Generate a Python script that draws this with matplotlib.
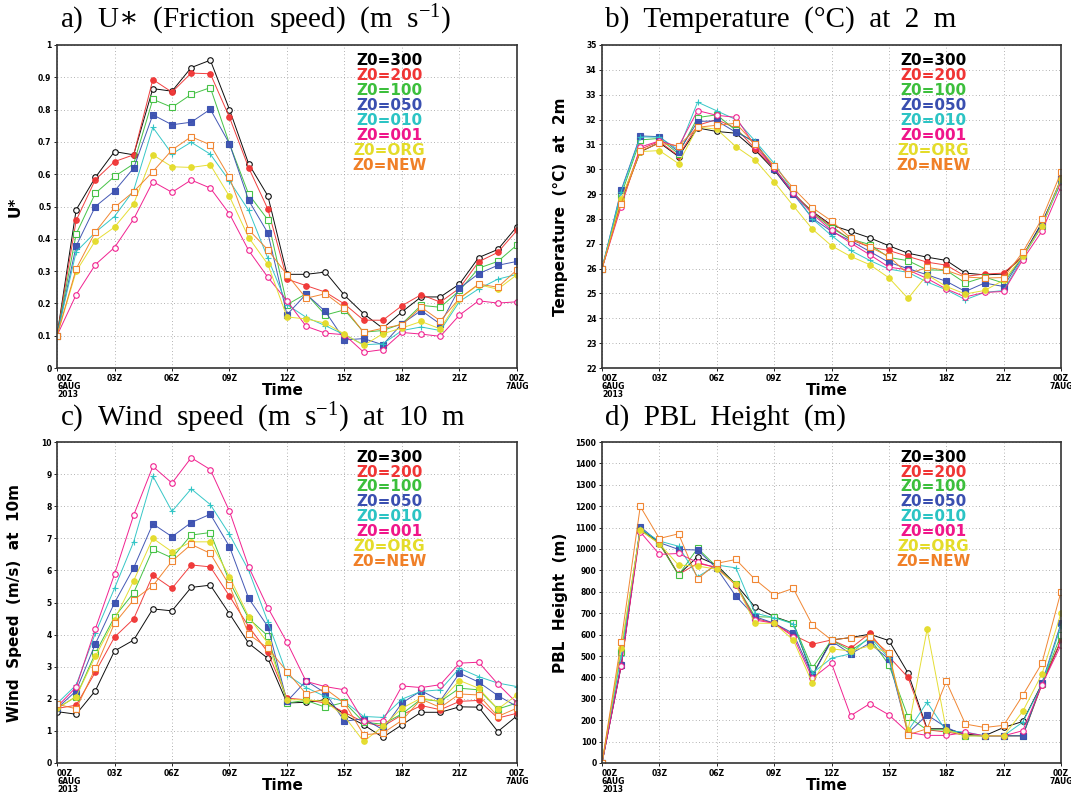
import matplotlib
matplotlib.use("Agg")
import matplotlib.pyplot as plt
import numpy as np

plt.rcParams["mathtext.fontset"] = "dejavuserif"

hours = np.arange(25)
tick_hours = [0, 3, 6, 9, 12, 15, 18, 21, 24]
tick_labels = ["00Z\n6AUG\n2013", "03Z", "06Z", "09Z", "12Z", "15Z", "18Z", "21Z", "00Z\n7AUG"]

runs = ["Z0=300", "Z0=200", "Z0=100", "Z0=050", "Z0=010", "Z0=001", "Z0=ORG", "Z0=NEW"]

# a) friction speed
ust_300 = [0.10, 0.49, 0.59, 0.67, 0.66, 0.865, 0.857, 0.93, 0.953, 0.80, 0.632, 0.533, 0.29, 0.29, 0.297, 0.225, 0.168, 0.123, 0.174, 0.22, 0.22, 0.26, 0.342, 0.367, 0.438]
ust_200 = [0.10, 0.457, 0.583, 0.639, 0.66, 0.893, 0.854, 0.913, 0.911, 0.776, 0.62, 0.492, 0.275, 0.255, 0.235, 0.198, 0.148, 0.148, 0.193, 0.227, 0.204, 0.247, 0.329, 0.358, 0.426]
ust_100 = [0.10, 0.415, 0.541, 0.593, 0.632, 0.832, 0.807, 0.847, 0.868, 0.694, 0.538, 0.459, 0.196, 0.23, 0.164, 0.18, 0.111, 0.116, 0.137, 0.194, 0.188, 0.24, 0.309, 0.33, 0.381]
ust_050 = [0.10, 0.378, 0.50, 0.548, 0.619, 0.784, 0.753, 0.761, 0.801, 0.694, 0.519, 0.418, 0.165, 0.229, 0.175, 0.087, 0.091, 0.072, 0.137, 0.178, 0.136, 0.247, 0.292, 0.318, 0.33]
ust_010 = [0.10, 0.36, 0.42, 0.469, 0.55, 0.745, 0.663, 0.699, 0.662, 0.579, 0.488, 0.34, 0.196, 0.157, 0.131, 0.103, 0.072, 0.075, 0.116, 0.127, 0.116, 0.206, 0.245, 0.275, 0.29]
ust_001 = [0.10, 0.227, 0.32, 0.373, 0.461, 0.577, 0.544, 0.582, 0.557, 0.477, 0.364, 0.281, 0.208, 0.129, 0.108, 0.103, 0.049, 0.057, 0.11, 0.105, 0.098, 0.164, 0.208, 0.201, 0.205]
ust_org = [0.10, 0.299, 0.394, 0.436, 0.508, 0.66, 0.623, 0.621, 0.629, 0.531, 0.404, 0.321, 0.158, 0.152, 0.139, 0.105, 0.07, 0.106, 0.124, 0.144, 0.121, 0.215, 0.258, 0.244, 0.289]
ust_new = [0.10, 0.307, 0.421, 0.497, 0.546, 0.608, 0.675, 0.716, 0.691, 0.59, 0.428, 0.366, 0.289, 0.216, 0.23, 0.186, 0.11, 0.123, 0.134, 0.188, 0.146, 0.216, 0.26, 0.25, 0.304]

# b) 2 m temperature
t2_300 = [26, 28.7, 30.7, 31.07, 30.51, 31.66, 31.52, 31.45, 30.78, 29.97, 29.0, 28.3, 27.75, 27.5, 27.24, 26.92, 26.62, 26.46, 26.33, 25.82, 25.75, 25.78, 26.5, 27.85, 29.47]
t2_200 = [26, 28.75, 30.8, 31.12, 30.54, 31.77, 32.0, 31.65, 30.83, 30.04, 29.05, 28.27, 27.7, 27.16, 26.87, 26.73, 26.49, 26.26, 26.14, 25.69, 25.78, 25.82, 26.5, 27.7, 29.6]
t2_100 = [26, 28.95, 31.18, 31.24, 30.62, 32.08, 32.19, 31.56, 31.05, 30.05, 29.05, 28.25, 27.63, 27.19, 26.97, 26.45, 26.32, 25.95, 25.93, 25.42, 25.66, 25.42, 26.5, 27.7, 29.6]
t2_050 = [26, 29.15, 31.34, 31.31, 30.7, 31.92, 31.95, 31.49, 31.11, 30.0, 29.0, 28.03, 27.5, 27.12, 26.69, 26.25, 26.0, 25.75, 25.49, 25.08, 25.42, 25.28, 26.5, 27.8, 29.6]
t2_010 = [26, 29.1, 31.3, 31.29, 30.78, 32.7, 32.35, 32.0, 31.14, 30.24, 29.1, 28.0, 27.33, 26.73, 26.33, 25.98, 25.85, 25.46, 25.15, 24.75, 25.04, 25.12, 26.45, 27.7, 29.5]
t2_001 = [26, 28.5, 30.89, 31.14, 30.91, 32.36, 32.17, 32.09, 30.94, 30.05, 29.04, 28.2, 27.54, 27.03, 26.56, 26.06, 25.95, 25.6, 25.18, 24.86, 25.04, 25.08, 26.36, 27.5, 29.3]
t2_org = [26, 28.8, 30.71, 30.75, 30.23, 31.7, 31.61, 30.91, 30.38, 29.49, 28.53, 27.59, 26.92, 26.49, 26.16, 25.63, 24.8, 25.75, 25.28, 24.98, 25.12, 25.53, 26.5, 27.7, 29.6]
t2_new = [26, 28.6, 30.73, 31.05, 30.94, 31.69, 31.77, 31.85, 31.01, 30.15, 29.24, 28.45, 27.92, 27.23, 26.87, 26.49, 25.78, 26.05, 25.93, 25.66, 25.62, 25.64, 26.66, 28.0, 29.87]

# c) 10 m wind speed
ws_300 = [1.6, 1.52, 2.25, 3.49, 3.83, 4.8, 4.74, 5.47, 5.54, 4.65, 3.73, 3.26, 1.87, 1.89, 1.97, 1.5, 1.19, 0.8, 1.19, 1.58, 1.58, 1.75, 1.74, 0.98, 1.47]
ws_200 = [1.7, 1.8, 2.83, 3.92, 4.49, 5.85, 5.44, 6.17, 6.11, 5.2, 4.25, 3.45, 2.02, 1.97, 1.87, 1.58, 1.27, 1.14, 1.5, 1.79, 1.66, 1.92, 1.95, 1.4, 1.55]
ws_100 = [1.7, 2.07, 3.42, 4.55, 5.3, 6.66, 6.39, 7.1, 7.18, 5.65, 4.5, 3.96, 1.87, 1.95, 1.74, 1.89, 1.27, 1.21, 1.53, 1.99, 1.92, 2.33, 2.28, 1.68, 1.87]
ws_050 = [1.7, 2.25, 3.71, 4.99, 6.08, 7.45, 7.05, 7.49, 7.75, 6.74, 5.13, 4.25, 1.92, 2.56, 2.18, 1.3, 1.38, 1.04, 1.87, 2.25, 1.94, 2.8, 2.52, 2.1, 1.76]
ws_010 = [1.85, 2.43, 4.04, 5.44, 6.89, 8.94, 7.84, 8.54, 8.05, 7.12, 6.0, 4.4, 2.75, 2.35, 2.07, 1.92, 1.45, 1.42, 1.99, 2.23, 2.28, 2.95, 2.69, 2.49, 2.38]
ws_001 = [1.75, 2.36, 4.18, 5.88, 7.72, 9.24, 8.72, 9.51, 9.14, 7.84, 6.11, 4.84, 3.76, 2.54, 2.38, 2.28, 1.3, 1.32, 2.4, 2.35, 2.44, 3.11, 3.14, 2.46, 1.87]
ws_org = [1.7, 2.07, 3.32, 4.46, 5.68, 7.0, 6.58, 6.89, 6.89, 5.8, 4.56, 3.73, 1.97, 1.97, 1.92, 1.45, 0.67, 1.14, 1.71, 2.02, 1.92, 2.57, 2.33, 1.68, 2.12]
ws_new = [1.83, 1.69, 2.95, 4.35, 5.08, 5.52, 6.29, 6.81, 6.53, 5.53, 4.01, 3.58, 2.85, 2.15, 2.31, 1.87, 0.88, 0.93, 1.33, 1.99, 1.73, 2.15, 2.12, 1.45, 1.71]

# d) PBL height
pbl_300 = [0, 451, 1095, 1031, 880, 964, 925, 835, 729, 684, 653, 410, 575, 586, 602, 572, 421, 160, 160, 135, 127, 166, 194, 370, 570]
pbl_200 = [0, 462, 1090, 1025, 881, 933, 914, 832, 676, 653, 598, 555, 575, 536, 606, 497, 400, 155, 145, 130, 127, 127, 127, 365, 575]
pbl_100 = [0, 520, 1090, 1026, 878, 1003, 917, 835, 684, 681, 653, 443, 575, 525, 583, 459, 215, 155, 155, 127, 127, 127, 127, 370, 599]
pbl_050 = [0, 460, 1104, 1030, 998, 995, 909, 780, 684, 653, 606, 409, 570, 510, 560, 485, 140, 225, 166, 130, 127, 127, 127, 373, 653]
pbl_010 = [0, 500, 1095, 1037, 1013, 870, 925, 912, 700, 679, 650, 420, 490, 510, 590, 490, 150, 284, 150, 145, 127, 127, 191, 365, 640]
pbl_001 = [0, 451, 1080, 975, 979, 937, 912, 832, 668, 653, 591, 396, 466, 221, 277, 225, 143, 129, 129, 143, 127, 127, 151, 365, 552]
pbl_org = [0, 536, 1088, 1024, 925, 920, 906, 835, 653, 653, 575, 373, 533, 524, 547, 513, 152, 625, 155, 127, 127, 127, 241, 415, 700]
pbl_new = [0, 567, 1199, 1049, 1071, 860, 933, 951, 858, 785, 816, 645, 575, 586, 591, 513, 132, 160, 381, 182, 166, 176, 316, 466, 801]

colors = ["#000000", "#f03535", "#3cbf3c", "#3a4fb0", "#2cc4c4", "#f0168a", "#e4dc2a", "#f08028"]
markers = ["o", "o", "s", "s", "+", "o", "o", "s"]
filled = [False, True, False, True, True, False, True, False]

panels = [
    ([ust_300, ust_200, ust_100, ust_050, ust_010, ust_001, ust_org, ust_new],
     "a)  U$\\ast$  (Friction  speed)  (m  s$\\mathregular{^{-1}}$)", "U*",
     (0, 1), np.round(np.arange(0, 1.01, 0.1), 1)),
    ([t2_300, t2_200, t2_100, t2_050, t2_010, t2_001, t2_org, t2_new],
     "b)  Temperature  (\u00b0C)  at  2  m", "Temperature  (\u00b0C)  at  2m",
     (22, 35), np.arange(22, 36, 1)),
    ([ws_300, ws_200, ws_100, ws_050, ws_010, ws_001, ws_org, ws_new],
     "c)  Wind  speed  (m  s$\\mathregular{^{-1}}$)  at  10  m", "Wind  Speed  (m/s)  at  10m",
     (0, 10), np.arange(0, 11, 1)),
    ([pbl_300, pbl_200, pbl_100, pbl_050, pbl_010, pbl_001, pbl_org, pbl_new],
     "d)  PBL  Height  (m)", "PBL  Height  (m)",
     (0, 1500), np.arange(0, 1501, 100)),
]

W, H = 1071, 798
fig = plt.figure(figsize=(W / 100, H / 100), dpi=100)
boxes = [(57, 45, 517, 368), (602, 45, 1061, 368), (57, 442, 517, 763), (602, 442, 1061, 763)]
title_pos = [(60, 20), (605, 20), (60, 418), (605, 418)]

for (series, title, ylabel, ylim, yticks), (x0, y0, x1, y1), (tx, ty) in zip(panels, boxes, title_pos):
    ax = fig.add_axes([x0 / W, 1 - y1 / H, (x1 - x0) / W, (y1 - y0) / H])
    for vals, c, m, f in zip(series, colors, markers, filled):
        ax.plot(hours, vals, color=c, lw=0.7, marker=m, ms=4 if m != "+" else 5,
                mfc=c if f else "white", mec=c, mew=0.8, alpha=0.95)
    ax.set_xlim(0, 24)
    ax.set_ylim(*ylim)
    ax.set_xticks(tick_hours)
    ax.set_xticklabels(tick_labels, fontsize=5.5, fontweight="bold", linespacing=0.9)
    for lab in ax.get_xticklabels()[:1]:
        lab.set_horizontalalignment("left")
        lab.set_x(-0.3)
    ax.set_yticks(yticks)
    ax.set_yticklabels([("%g" % v) for v in yticks], fontsize=5.5, fontweight="bold")
    ax.tick_params(length=2.5, width=0.6, pad=1.5)
    ax.grid(True, ls=(0, (1, 3)), color="#999999", lw=0.6)
    for sp in ax.spines.values():
        sp.set_linewidth(1.2)
        sp.set_color("#333333")
    ax.set_ylabel(ylabel, fontsize=11, fontweight="bold")
    ax.yaxis.set_label_coords(-0.075, 0.5)
    ax.text(0.49, -0.07, "Time", transform=ax.transAxes, ha="center", va="center",
            fontsize=11, fontweight="bold")
    for i, (name, c) in enumerate(zip(runs, colors)):
        ax.text(0.722, 0.953 - i * 0.0465, name, transform=ax.transAxes, ha="center",
                va="center", color=c, fontsize=11, fontweight="bold")
    fig.text(tx / W, 1 - ty / H, title, fontsize=21,
             family=["Liberation Serif", "DejaVu Serif"], ha="left", va="center")

plt.savefig("out.png", dpi=100)
